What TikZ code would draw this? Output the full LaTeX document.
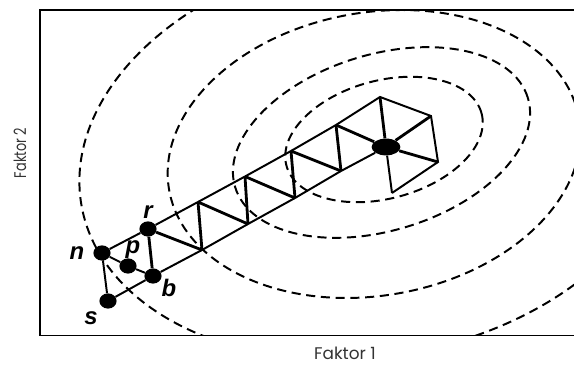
\documentclass[tikz,border=0pt]{standalone}
\usepackage{fontspec}
\usepackage{tikz}
\usetikzlibrary{shapes.geometric}
\newfontfamily\labelfont{Liberation Sans}
\newfontfamily\axisfont{Poppins}

\begin{document}
\begin{tikzpicture}[x=0.025cm, y=0.025cm,
		contour/.style={dash pattern=on 6.5pt off 4pt, line width=1.4pt},
		edge/.style={line width=1.4pt},
		rung/.style={line width=2pt},
		vertex/.style={ellipse, fill=black, inner sep=0pt, minimum width=0.43cm, minimum height=0.38cm},
		ptlabel/.style={font=\labelfont\bfseries\itshape\fontsize{17}{17}\selectfont, inner sep=0pt},
		axislabel/.style={font=\axisfont\fontsize{12}{12}\selectfont, text=black!80, inner sep=0pt}]
		\useasboundingbox (0, 0) rectangle (574, 365);
		% contour lines
		\begin{scope}
			\clip (40, 29.5) rectangle (574, 355);
			\draw[contour, rotate around={15:(384, 225.5)}] (384, 225.5) ellipse [x radius=101, y radius=59];
			\draw[contour, rotate around={17:(381.5, 222.5)}] (381.5, 222.5) ellipse [x radius=153, y radius=88];
			\draw[contour, rotate around={10:(374, 211)}] (374, 211) ellipse [x radius=208, y radius=141.5];
			\draw[contour, rotate around={10:(374, 211)}] (374, 211) ellipse [x radius=297, y radius=202];
		\end{scope}
		% frame
		\draw[line width=1.4pt] (576, 355) -- (40, 355) -- (40, 29.5) -- (576, 29.5);
		% vertices of the simplex path
		\node[vertex] (n) at (102, 112) {};
		\node[vertex] (p) at (128, 99) {};
		\node[vertex] (b) at (153, 89) {};
		\node[vertex] (s) at (108, 64) {};
		\node[vertex] (r) at (148, 136) {};
		\coordinate (t1) at (198, 163);
		\coordinate (t2) at (245, 188.5);
		\coordinate (t3) at (291, 214);
		\coordinate (t4) at (336, 240);
		\coordinate (t5) at (380, 268);
		\coordinate (b1) at (202, 115);
		\coordinate (b2) at (248, 141);
		\coordinate (b3) at (295, 167);
		\coordinate (b4) at (341, 194);
		\node[vertex, minimum width=0.72cm, minimum height=0.42cm] (c) at (386, 218) {};
		\coordinate (h1) at (431, 249);
		\coordinate (h2) at (438, 203);
		\coordinate (h3) at (392, 172);
		% edges
		\draw[edge] (n) -- (r) -- (t1) -- (t2) -- (t3) -- (t4) -- (t5) -- (h1) -- (h2) -- (h3);
		\draw[edge] (s) -- (b) -- (b1) -- (b2) -- (b3) -- (b4) -- (c);
		\draw[edge] (n) -- (s);
		\draw[edge] (n) -- (p) -- (b);
		\draw[edge] (c) -- (h3);
		\draw[rung] (r) -- (b);
		\foreach \u/\l in {t1/b1, t2/b2, t3/b3, t4/b4, t5/c, r/b1, t1/b2, t2/b3, t3/b4, t4/c, h1/c, h2/c}
			\draw[rung] (\u) -- (\l);
		% labels
		\node[ptlabel] (ln) at (77, 112) {n};
		\node[ptlabel] (lp) at (133, 115) {p};
		\node[ptlabel] (lr) at (148, 153) {r};
		\node[ptlabel] (lb) at (169, 77) {b};
		\node[ptlabel] (ls) at (91, 47) {s};
		\node[axislabel, anchor=base] (fx) at (345, 5) {Faktor 1};
		\node[axislabel, rotate=90, xscale=0.76, anchor=base] (fy) at (26, 212) {Faktor 2};
	\end{tikzpicture}
\end{document}
